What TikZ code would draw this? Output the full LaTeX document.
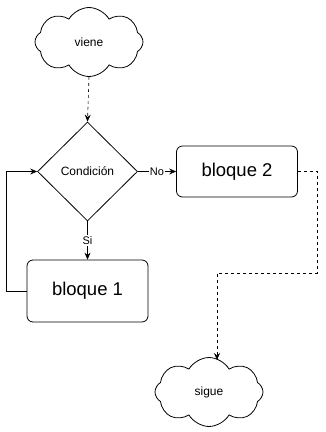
\documentclass[tikz,border=0pt]{standalone}
\usepackage{fontspec}
\setmainfont{Liberation Sans}
\usetikzlibrary{shapes.geometric,shapes.symbols,arrows.meta}

\tikzset{
	cloudnode/.style={draw, thick, cloud, cloud puffs=8, cloud puff arc=120,
		minimum width=108pt, minimum height=69pt, inner sep=0pt, font=\fontsize{12}{14}\selectfont},
	decision/.style={draw, thick, diamond, minimum width=100pt, minimum height=99pt,
		inner sep=0pt, font=\fontsize{12}{14}\selectfont},
	block/.style={draw, thick, rectangle, rounded corners=6pt, minimum width=121pt,
		inner sep=0pt, font=\fontsize{18.5}{22}\selectfont},
	flowline/.style={semithick, -{Stealth[length=7pt,width=6pt,inset=2.5pt]}},
	dashline/.style={flowline, dash pattern=on 3pt off 3pt},
	lbl/.style={fill=white, inner sep=1pt, font=\fontsize{11}{13}\selectfont}
}

\begin{document}
\begin{tikzpicture}[x=1pt,y=-1pt]
	%%%%% START %%%%%
	\useasboundingbox (0,0) rectangle (326,432);
	
	\node[cloudnode] (viene) at (89,42) {viene};
	\node[decision] (cond) at (87.5,171.5) {Condición};
	\node[block, minimum height=51pt] (b2) at (237,171.5) {bloque 2};
	\node[block, minimum height=62pt] (b1) at (87.5,291) {bloque 1};
	\node[cloudnode] (sigue) at (209,392) {sigue};
	
	\coordinate (turn) at (317,273);
	\coordinate (into) at (217,360);
	
	\draw[dashline] (viene.south) -- (cond.north);
	\draw[flowline] (cond.east) -- node[lbl] {No} (b2.west);
	\draw[flowline] (cond.south) -- node[lbl] {Si} (b1.north);
	\draw[flowline] (b1.west) -- ++(-20,0) |- (cond.west);
	\draw[dashline] (b2.east) -| (turn) -| (into);
	%%%%% END %%%%%
\end{tikzpicture}
\end{document}
